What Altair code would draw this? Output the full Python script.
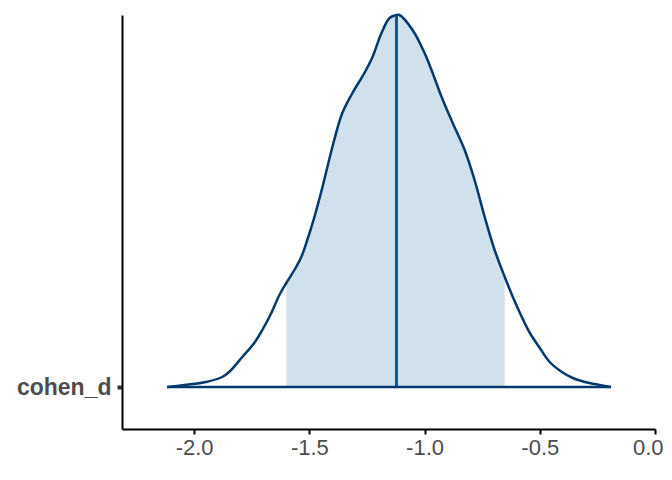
import altair as alt
import pandas as pd

# density curve
xs = [-2.117, -2.043, -1.948, -1.878, -1.848, -1.791, -1.739, -1.704, -1.665, -1.630,
      -1.600, -1.565, -1.535, -1.509, -1.478, -1.443, -1.400, -1.357, -1.313, -1.261,
      -1.226, -1.187, -1.152, -1.122, -1.109, -1.052, -1.000, -0.965, -0.926, -0.878,
      -0.826, -0.783, -0.739, -0.696, -0.652, -0.617, -0.578, -0.543, -0.500, -0.457,
      -0.404, -0.357, -0.304, -0.239, -0.191]
dens = [0, 2, 5, 10, 15, 30, 44, 57, 74, 92,
        104, 117, 130, 147, 170, 200, 240, 274, 294, 314,
        330, 354, 369, 372, 372, 357, 334, 314, 290, 264,
        237, 207, 170, 137, 110, 90, 70, 54, 39, 25,
        15, 9, 5, 2, 0]

interval_lo = -1.600
interval_hi = -0.652
median_x = -1.122
median_h = 372

param_label = "cohen_d"
x_ticks = [-2.0, -1.5, -1.0, -0.5, 0.0]

df = pd.DataFrame({"x": xs, "d": dens})
med = pd.DataFrame({"x": [median_x], "y0": [0], "y1": [median_h]})

FONT = "Liberation Sans"
DARK = "#03396c"
INTERP = "catmull-rom"

xscale = alt.Scale(domain=[-2.313, 0.0], nice=False, zero=False)
yscale = alt.Scale(domain=[-42, 372], nice=False, zero=False)

xaxis = alt.Axis(values=x_ticks, title=None, grid=False,
                 labelExpr="(datum.value < 0 ? '-' : '') + format(abs(datum.value), '.1f')",
                 labelFlush=True, labelFlushOffset=8,
                 domainColor="black", domainWidth=2, tickColor="black", tickWidth=2,
                 tickSize=5, labelColor="#4d4d4d", labelFontSize=22, labelFont=FONT,
                 labelPadding=3)
yaxis = alt.Axis(values=[0], labelExpr=f"'{param_label}'", title=None, grid=False,
                 domainColor="black", domainWidth=2, tickColor="#333333", tickWidth=4,
                 tickSize=5, labelColor="#4d4d4d", labelFontSize=23, labelFont=FONT,
                 labelFontWeight="bold", labelPadding=6)

base = alt.Chart(df)

area = base.transform_filter(
    (alt.datum.x >= interval_lo) & (alt.datum.x <= interval_hi)
).mark_area(color="#d1e1ec", opacity=1, interpolate=INTERP).encode(
    x=alt.X("x:Q", scale=xscale, axis=xaxis),
    y=alt.Y("d:Q", scale=yscale, axis=yaxis),
    y2=alt.datum(0),
)

median_rule = alt.Chart(med).mark_rule(color="#005b96", strokeWidth=3).encode(
    x=alt.X("x:Q", scale=xscale),
    y=alt.Y("y0:Q", scale=yscale),
    y2="y1:Q",
)

curve = base.mark_line(color=DARK, strokeWidth=2.5, interpolate=INTERP).encode(
    x=alt.X("x:Q", scale=xscale),
    y=alt.Y("d:Q", scale=yscale),
)

baseline = base.mark_rule(color=DARK, strokeWidth=2.5).encode(
    x=alt.X("min(x):Q", scale=xscale),
    x2="max(x):Q",
    y=alt.datum(0),
)

chart = alt.layer(area, median_rule, curve, baseline).properties(
    width=533, height=414,
    autosize=alt.AutoSizeParams(type="none"),
    padding={"left": 114, "top": 7, "right": 9, "bottom": 43},
).configure_view(stroke=None)

chart.save("out.html", embed_options={"renderer": "svg", "actions": False})
